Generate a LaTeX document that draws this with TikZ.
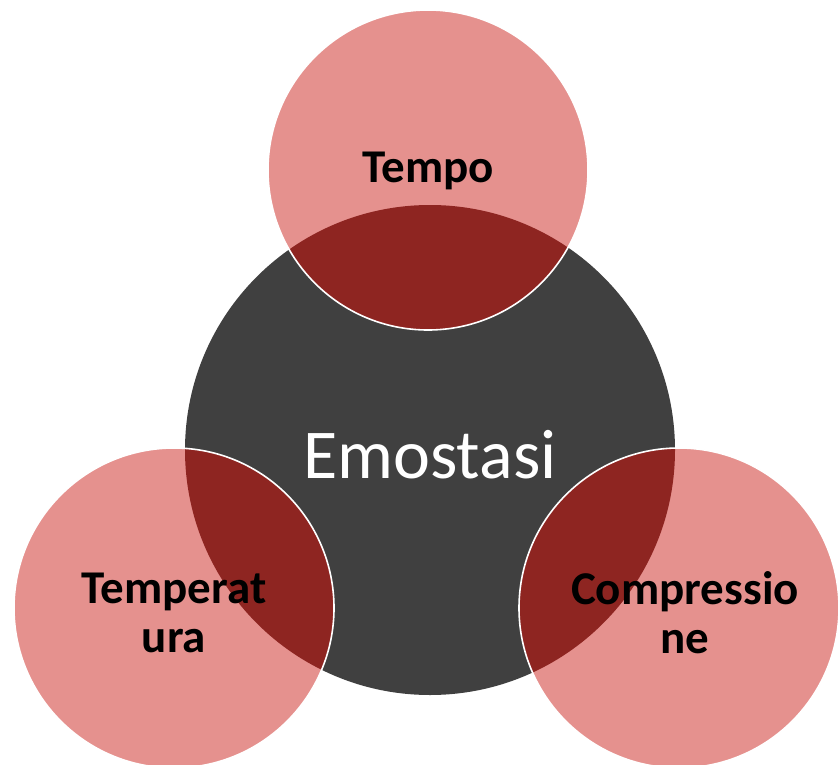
\documentclass[tikz,border=0pt]{standalone}
\usepackage{fontspec}
\setmainfont{Carlito}
\definecolor{hubgray}{RGB}{64,64,64}
\definecolor{petalpink}{RGB}{229,145,142}
\definecolor{overlapred}{RGB}{142,37,33}
\begin{document}
\begin{tikzpicture}[x=1pt,y=-1pt,
  hub/.style={circle,inner sep=0pt,minimum size=490pt,fill=hubgray},
  petal/.style={circle,inner sep=0pt,minimum size=320pt,fill=petalpink},
  petallabel/.style={font=\fontsize{47}{49}\selectfont\bfseries,text=black,align=center},
  hublabel/.style={font=\fontsize{70}{72}\selectfont,text=white}]
\useasboundingbox (0,0) rectangle (838,765);
\node[hub] (c) at (430,450) {};
\node[petal] (t) at (428,170) {};
\node[petal] (l) at (174,608) {};
\node[petal] (r) at (679,608) {};
\begin{scope}
  \clip (c.center) circle (245);
  \fill[overlapred] (t.center) circle (160);
  \fill[overlapred] (l.center) circle (160);
  \fill[overlapred] (r.center) circle (160);
\end{scope}
\draw[white,line width=1.6pt] (t.center) circle (160);
\draw[white,line width=1.6pt] (l.center) circle (160);
\draw[white,line width=1.6pt] (r.center) circle (160);
\node[hublabel] (ct) at (430,455) {Emostasi};
\node[petallabel] (tt) at (428,171) {Tempo};
\node[petallabel] (lt) at (174,613) {Temperat\\ura};
\node[petallabel] (rt) at (685,613) {Compressio\\ne};
\end{tikzpicture}
\end{document}
